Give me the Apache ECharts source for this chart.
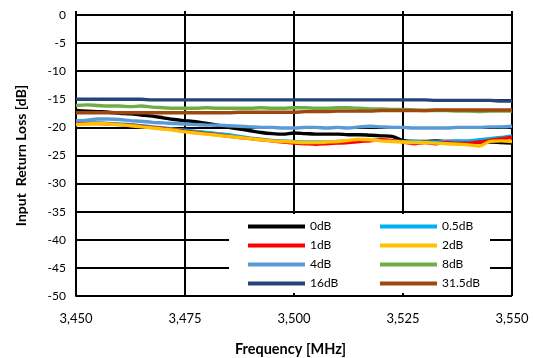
<!DOCTYPE html>
<html>
<head>
<meta charset="utf-8">
<script src="https://cdn.jsdelivr.net/npm/echarts@6/dist/echarts.min.js"></script>
<style>html,body{margin:0;padding:0;background:#fff;}#c{width:533px;height:358px;}</style>
</head>
<body>
<div id="c"></div>
<script>
// Frequency (MHz), 2.5 MHz steps
const freq = [3450,3452.5,3455,3457.5,3460,3462.5,3465,3467.5,3470,3472.5,3475,3477.5,3480,3482.5,3485,3487.5,3490,3492.5,3495,3497.5,3500,3502.5,3505,3507.5,3510,3512.5,3515,3517.5,3520,3522.5,3525,3527.5,3530,3532.5,3535,3537.5,3540,3542.5,3545,3547.5,3550];
const s0dB   = [-17.0,-17.1,-17.2,-17.3,-17.5,-17.6,-17.8,-18.0,-18.3,-18.6,-18.8,-19.0,-19.3,-19.6,-20.0,-20.3,-20.6,-20.9,-21.1,-21.2,-21.0,-21.1,-21.2,-21.2,-21.2,-21.3,-21.3,-21.4,-21.5,-21.6,-22.3,-22.5,-22.5,-22.4,-22.5,-22.5,-22.6,-22.6,-22.6,-22.7,-22.8];
const s05dB  = [-19.3,-19.2,-19.2,-19.3,-19.4,-19.5,-19.7,-19.9,-20.1,-20.3,-20.5,-20.7,-20.9,-21.1,-21.3,-21.6,-21.9,-22.1,-22.3,-22.4,-22.5,-22.6,-22.6,-22.6,-22.5,-22.4,-22.3,-22.3,-22.3,-22.4,-22.5,-22.5,-22.6,-22.6,-22.5,-22.4,-22.4,-22.2,-22.0,-21.8,-21.5];
const s1dB   = [-19.4,-19.3,-19.3,-19.4,-19.5,-19.6,-19.8,-20.0,-20.2,-20.4,-20.7,-20.9,-21.1,-21.3,-21.6,-21.8,-22.0,-22.2,-22.4,-22.6,-22.8,-22.9,-23.0,-22.9,-22.8,-22.7,-22.5,-22.4,-22.2,-22.3,-22.6,-22.9,-22.7,-22.9,-22.7,-22.8,-22.8,-22.6,-22.3,-22.0,-21.8];
const s2dB   = [-19.5,-19.4,-19.3,-19.4,-19.5,-19.7,-19.9,-20.1,-20.3,-20.5,-20.8,-21.0,-21.2,-21.4,-21.6,-21.8,-22.0,-22.2,-22.4,-22.5,-22.6,-22.7,-22.7,-22.6,-22.5,-22.3,-22.1,-22.2,-22.4,-22.5,-22.6,-22.7,-22.7,-22.8,-22.9,-23.0,-23.1,-23.3,-22.5,-22.4,-22.5];
const s4dB   = [-18.8,-18.7,-18.5,-18.5,-18.6,-18.8,-18.9,-19.1,-19.2,-19.3,-19.4,-19.5,-19.6,-19.6,-19.7,-19.8,-19.9,-20.0,-20.0,-20.1,-20.1,-20.0,-20.0,-20.1,-20.0,-20.1,-19.9,-19.8,-19.9,-20.0,-20.0,-20.1,-20.1,-20.1,-20.1,-20.0,-20.0,-20.0,-19.9,-19.9,-19.8];
const s8dB   = [-16.1,-16.0,-16.1,-16.2,-16.2,-16.3,-16.2,-16.4,-16.5,-16.6,-16.6,-16.6,-16.5,-16.6,-16.6,-16.6,-16.6,-16.5,-16.6,-16.6,-16.5,-16.5,-16.6,-16.6,-16.5,-16.5,-16.6,-16.7,-16.7,-16.8,-16.8,-16.9,-17.0,-17.0,-17.0,-17.1,-17.1,-17.2,-17.1,-17.1,-17.1];
const s16dB  = [-15.0,-15.0,-15.0,-15.0,-15.0,-15.0,-15.0,-15.1,-15.1,-15.1,-15.1,-15.1,-15.1,-15.1,-15.1,-15.1,-15.1,-15.1,-15.1,-15.1,-15.1,-15.1,-15.1,-15.1,-15.1,-15.1,-15.1,-15.1,-15.1,-15.1,-15.1,-15.1,-15.1,-15.2,-15.2,-15.2,-15.2,-15.2,-15.2,-15.3,-15.3];
const s315dB = [-17.4,-17.4,-17.4,-17.4,-17.4,-17.4,-17.4,-17.4,-17.4,-17.4,-17.4,-17.4,-17.4,-17.4,-17.4,-17.3,-17.3,-17.3,-17.3,-17.3,-17.3,-17.2,-17.2,-17.2,-17.1,-17.1,-17.1,-17.1,-17.0,-17.0,-17.0,-17.0,-17.0,-16.9,-16.9,-16.9,-16.9,-16.9,-16.9,-16.9,-16.9];
const seriesNames = ['0dB','0.5dB','1dB','2dB','4dB','8dB','16dB','31.5dB'];
const seriesValues = [s0dB, s05dB, s1dB, s2dB, s4dB, s8dB, s16dB, s315dB];
const seriesColors = ['#000000','#00B0F0','#FF0000','#FFC000','#5B9BD5','#70AD47','#264478','#9E480E'];
const xMin = 3450, xMax = 3550, xStep = 25;
const yMin = -50, yMax = 0, yStep = 5;

const FONT = 'Lato';
const chart = echarts.init(document.getElementById('c'), null, {renderer: 'canvas'});
const series = seriesNames.map((n, k) => ({
  name: n,
  type: 'line',
  data: freq.map((f, i) => [f, seriesValues[k][i]]),
  showSymbol: false,
  symbol: 'none',
  smooth: 0.3,
  lineStyle: {color: seriesColors[k], width: 3.4},
  itemStyle: {color: seriesColors[k]},
  z: 3,
  animation: false
}));
const legendCommon = {
  orient: 'vertical',
  icon: 'rect',
  itemWidth: 57,
  itemHeight: 4,
  itemGap: 4,
  padding: 0,
  textStyle: {fontFamily: FONT, fontSize: 12, color: '#000', lineHeight: 15},
  selectedMode: false,
  z: 5
};
chart.setOption({
  animation: false,
  backgroundColor: '#fff',
  grid: {left: 76, right: 21, top: 15, bottom: 62, containLabel: false, outerBoundsMode: 'none'},
  graphic: [{type: 'rect', shape: {x: 229, y: 214, width: 261, height: 79}, style: {fill: '#fff'}, z: 1, silent: true}],
  legend: [
    Object.assign({}, legendCommon, {left: 248, top: 219, data: ['0dB','1dB','4dB','16dB']}),
    Object.assign({}, legendCommon, {left: 380, top: 219, data: ['0.5dB','2dB','8dB','31.5dB']})
  ],
  xAxis: {
    type: 'value', min: xMin, max: xMax, interval: xStep,
    name: 'Frequency [MHz]', nameLocation: 'middle', nameGap: 46,
    nameTextStyle: {fontFamily: FONT, fontSize: 14.5, fontWeight: 'bold', color: '#000', padding: [0, 7, 0, 0]},
    axisLine: {show: true, lineStyle: {color: '#000', width: 2}},
    axisTick: {show: true, inside: true, length: 4, lineStyle: {color: '#000', width: 2}},
    axisLabel: {fontFamily: FONT, fontSize: 13, color: '#000', margin: 16,
      formatter: v => Math.round(v).toLocaleString('en-US')},
    splitLine: {show: true, lineStyle: {color: '#000', width: 2}}
  },
  yAxis: {
    type: 'value', min: yMin, max: yMax, interval: yStep,
    name: 'Input  Return Loss [dB]', nameLocation: 'middle', nameGap: 48, nameRotate: 90,
    nameTextStyle: {fontFamily: FONT, fontSize: 14, fontWeight: 'bold', color: '#000'},
    axisLine: {show: true, lineStyle: {color: '#000', width: 2}},
    axisTick: {show: false},
    axisLabel: {fontFamily: FONT, fontSize: 12, color: '#000', margin: 10},
    splitLine: {show: true, lineStyle: {color: '#000', width: 2}}
  },
  series: series
});
</script>
</body>
</html>
